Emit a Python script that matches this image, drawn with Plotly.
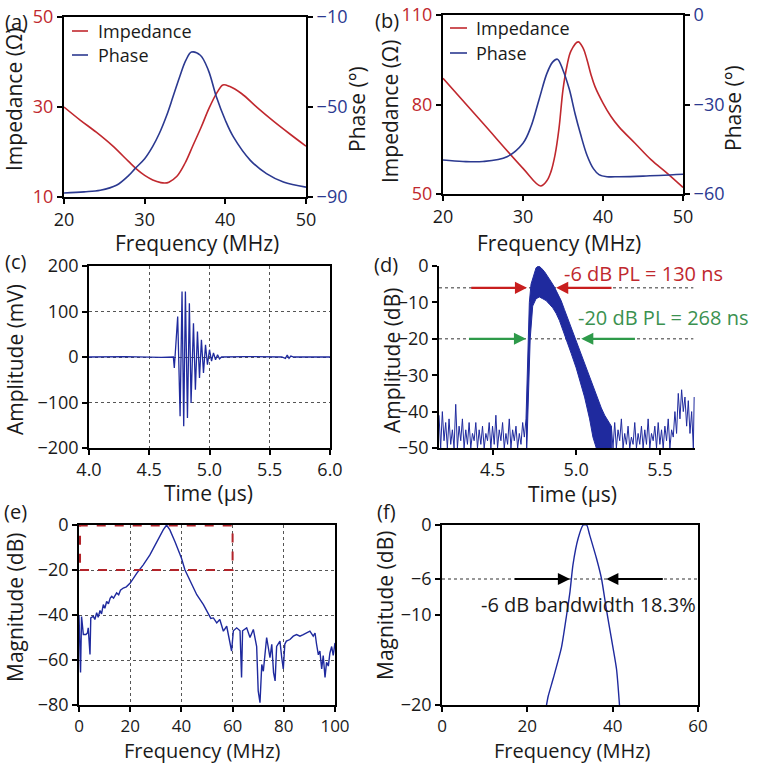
import plotly.graph_objects as go

W, H = 760, 763
FONT = "Open Sans"
RED = "#c0282e"
BLUE = "#2b3990"
NAVY = "#1f2a9e"
GREEN = "#3b9150"
TXT = "#1a1a1a"

# ---------------- (a) impedance / phase ----------------
a_imp_freq = [20, 22, 24, 26, 28, 29, 30, 31, 32, 32.5, 33, 34, 35, 36, 37, 38, 39, 39.7, 40.5, 42, 44, 46, 48, 50]
a_imp = [30, 27.1, 24.4, 21.4, 17.9, 16.2, 14.8, 13.8, 13.2, 13.1, 13.3, 14.6, 17.5, 21.5, 25.5, 29.8, 33.3, 34.9, 34.6, 33, 29.8, 26.8, 24, 21.3]
a_ph_freq = [20, 22.5, 24.5, 26.5, 28, 28.8, 30, 31, 31.8, 32.7, 33.5, 34.3, 35.1, 35.8, 36.9, 37.9, 38.9, 40, 41, 43.1, 45.1, 47.2, 50]
a_phase = [-88.2, -87.7, -87, -84.8, -80.5, -77.4, -73, -67.5, -61.9, -54, -45.6, -37, -29.3, -25.6, -27, -33.7, -45.6, -55.9, -63.3, -73.7, -79.6, -83.3, -85.6]

# ---------------- (b) impedance / phase ----------------
b_imp_freq = [20, 25, 30, 32.2, 33, 33.5, 34, 34.5, 35, 35.5, 36, 36.9, 37.5, 38, 38.5, 39, 40, 41, 42, 44, 46, 48, 50]
b_imp = [88.8, 73.7, 58.6, 52.7, 54.5, 57.5, 63, 72, 85, 93, 98, 101, 99, 95, 90, 86, 80.5, 76, 72.5, 67, 61.5, 57, 52.2]
b_ph_freq = [20, 22.5, 25, 28, 30, 31, 32, 33, 33.7, 34.3, 35, 35.8, 36.5, 37.2, 38, 38.8, 39.5, 40.5, 42, 45, 50]
b_phase = [-48.6, -49.1, -49.1, -47.5, -43, -37.4, -28.4, -19.5, -15.8, -14.8, -18.5, -25, -33, -40, -47, -51.5, -53.5, -54.2, -54.2, -54, -53.4]

# ---------------- (c) pulse-echo waveform ----------------
c_time = [4.0, 4.3, 4.6, 4.70, 4.708, 4.736, 4.756, 4.772, 4.786, 4.800, 4.817, 4.833, 4.847, 4.867, 4.883,
          4.900, 4.917, 4.933, 4.950, 4.967, 4.983, 5.000, 5.017, 5.033, 5.050, 5.067, 5.083, 5.10, 5.30,
          5.60, 5.63, 5.645, 5.66, 5.675, 5.70, 6.0]
c_amp = [0, 1, -1, 0, -24, 89, -130, 144, -152, 144, -134, 118, -101, 74, -72,
         56, -46, 38, -35, 27, -17, 16, -9, 9, -6, 5, -4, 0, 1,
         0, -3, 4, -3, 2, 0, 0]

# ---------------- (d) envelope in dB ----------------
d_floor_left_t = [4.18, 4.19, 4.20, 4.21, 4.22, 4.23, 4.24, 4.25, 4.26, 4.27, 4.28, 4.29, 4.30, 4.31, 4.32, 4.33, 4.34,
                  4.35, 4.36, 4.37, 4.38, 4.39, 4.40, 4.41, 4.42, 4.43, 4.44, 4.45, 4.46, 4.47, 4.48, 4.49, 4.50, 4.51,
                  4.52, 4.53, 4.54, 4.55, 4.56, 4.57, 4.58, 4.59, 4.60, 4.61, 4.62, 4.63, 4.64, 4.65, 4.66, 4.67, 4.68,
                  4.69, 4.70]
d_floor_left = [-41, -50, -40, -48, -43, -50, -42, -49, -45, -50, -38, -50, -44, -48, -42, -50, -45,
                -49, -43, -50, -46, -48, -43, -50, -45, -49, -44, -50, -46, -48, -43, -50, -44, -49,
                -41, -50, -45, -48, -43, -50, -46, -49, -42, -50, -45, -48, -44, -50, -46, -49, -43,
                -47, -42]
d_pulse_t = [4.700, 4.705, 4.71, 4.715, 4.72, 4.73, 4.745, 4.76, 4.775, 4.79, 4.81, 4.83, 4.85, 4.87, 4.89, 4.91,
             4.93, 4.95, 4.97, 4.99, 5.01, 5.03, 5.05, 5.07, 5.09, 5.11, 5.13, 5.15, 5.17, 5.19, 5.21,
             5.21, 5.12, 5.10, 5.08, 5.05, 5.02, 5.00, 4.97, 4.94, 4.92, 4.90, 4.88, 4.86, 4.84, 4.82, 4.80,
             4.78, 4.76, 4.74, 4.725, 4.715, 4.705, 4.700]
d_pulse = [-42, -35, -25, -16, -10, -5, -2.5, -0.5, 0, -0.5, -1.5, -2.8, -4.3, -5.8, -7.5, -9.5,
           -12, -14.5, -17, -19.5, -22, -24.5, -27, -29.5, -32, -34.5, -37, -39, -41, -42.5, -44,
           -50, -50, -47, -42, -36, -31, -28, -24, -20, -17.5, -15, -13, -11.5, -10.5, -9.5, -9,
           -8.5, -9, -11, -20, -35, -50, -50]
d_floor_right_t = [5.21, 5.22, 5.23, 5.24, 5.25, 5.26, 5.27, 5.28, 5.29, 5.30, 5.31, 5.32, 5.33, 5.34, 5.35, 5.36,
                   5.37, 5.38, 5.39, 5.40, 5.41, 5.42, 5.43, 5.44, 5.45, 5.46, 5.47, 5.48, 5.49, 5.50, 5.51, 5.52,
                   5.53, 5.54, 5.55, 5.56, 5.57, 5.58, 5.59, 5.60, 5.61, 5.62, 5.63, 5.64, 5.65, 5.66, 5.67, 5.68,
                   5.69, 5.70, 5.705]
d_floor_right = [-44, -50, -43, -50, -45, -48, -42, -50, -46, -49, -44, -50, -47, -49, -43, -50,
                 -46, -49, -44, -50, -45, -49, -42, -50, -46, -48, -44, -50, -43, -49, -45, -50,
                 -44, -48, -42, -50, -45, -47, -40, -46, -35, -42, -34, -40, -36, -44, -37, -46,
                 -40, -50, -36]

# ---------------- (e) spectrum ----------------
e_freq = [0, 0.6, 1.0, 1.7, 2.7, 3.3, 3.6, 4.0, 4.3, 4.6,
          5.6, 6.2, 6.9, 7.5, 8.2, 8.8, 9.5, 10.1, 10.8, 11.5, 12.2, 12.8, 13.5, 14.7, 15.5, 16.2, 17.3, 18.5, 20,
          22.6, 25.1, 27.7, 30.3, 32.9, 34.2, 35.5, 37.5, 40, 41.4, 43.4, 46, 48.6, 50.5, 51.5, 52.5, 53.8, 55,
          56.4, 57.7, 59, 59.6, 60.3, 61.6, 62.9, 63.5, 63.9, 65.5, 66.8, 68.1, 69.4, 70, 70.7, 71.4, 72, 72.7,
          73.3, 74.6, 75.3, 76, 76.6, 77.2, 78.5, 79.2, 79.8, 80.4, 81, 82.4, 83.7, 85, 86.3, 87.6, 88.9, 90.2,
          91.5, 92.2, 92.8, 93.5, 94.1, 94.8, 95.4, 96.1, 96.7, 97.4, 98, 98.7, 99.3, 100]
e_mag = [-40, -65.6, -40.7, -48.7, -48.7, -48, -45.7, -53, -57.5, -41.3,
         -40.6, -42, -39, -41, -38, -39.5, -35.4, -37, -34, -35, -32.5, -31.7, -32.5, -30.2, -31, -29, -28, -27.5,
         -25.8,
         -21.4, -17.7, -13.3, -7.4, -2.2, 0, -2.2, -7.4, -14.7, -20, -25, -31, -35.4, -39, -41.5, -41.3, -43.5, -42,
         -47.2, -45, -53, -56, -47, -45.7, -47, -67.8, -47, -45.7, -50, -46.4, -54, -73.7, -79, -62, -65, -56,
         -50, -59, -53, -65.6, -69.3, -54, -51.6, -59, -64, -53, -51.6, -50.9, -49.4, -48.7, -49.4, -48.7, -48,
         -47.2, -49.4, -48, -53, -57.7, -56, -64, -58, -67.8, -61, -62.7, -57, -54, -58, -52.4]

# ---------------- (f) -6 dB bandwidth ----------------
f_freq = [24.5, 24.9, 26.1, 28.0, 29.2, 30.0, 30.7, 31.9, 33.1, 33.9, 34.6, 36.2, 37.4, 38.5, 39.7, 40.9, 41.6]
f_mag = [-20, -19, -17, -13.6, -10, -7.4, -4.4, -1.5, 0, 0, -1.1, -3.7, -6, -9.3, -12.6, -16, -20]

# tick labels
a_left_ticks = [10, 30, 50]
a_right_ticks = [-90, -50, -10]
b_left_ticks = [50, 80, 110]
b_right_ticks = [-60, -30, 0]
freq_ticks_ab = [20, 30, 40, 50]
c_xticks = [4.0, 4.5, 5.0, 5.5, 6.0]
c_yticks = [-200, -100, 0, 100, 200]
d_xticks = [4.5, 5.0, 5.5]
d_yticks = [-50, -40, -30, -20, -10, 0]
e_xticks = [0, 20, 40, 60, 80, 100]
e_yticks = [-80, -60, -40, -20, 0]
f_xticks = [0, 20, 40, 60]
f_yticks = [-20, -10, -6, 0]


def xd(p0, p1):
    return [p0 / W, p1 / W]


def yd(top, bottom):
    return [1 - bottom / H, 1 - top / H]


fig = go.Figure()
# (a)
fig.add_trace(go.Scatter(x=a_imp_freq, y=a_imp, mode="lines", xaxis="x", yaxis="y",
                         line=dict(color=RED, width=1.6, shape="spline", smoothing=1)))
fig.add_trace(go.Scatter(x=a_ph_freq, y=a_phase, mode="lines", xaxis="x", yaxis="y2",
                         line=dict(color=BLUE, width=1.6, shape="spline", smoothing=1)))
# (b)
fig.add_trace(go.Scatter(x=b_imp_freq, y=b_imp, mode="lines", xaxis="x2", yaxis="y3",
                         line=dict(color=RED, width=1.6, shape="spline", smoothing=1)))
fig.add_trace(go.Scatter(x=b_ph_freq, y=b_phase, mode="lines", xaxis="x2", yaxis="y4",
                         line=dict(color=BLUE, width=1.6, shape="spline", smoothing=1)))
# (c)
fig.add_trace(go.Scatter(x=c_time, y=c_amp, mode="lines", xaxis="x3", yaxis="y5",
                         line=dict(color=NAVY, width=1.3)))
# (d)
fig.add_trace(go.Scatter(x=d_floor_left_t, y=d_floor_left, mode="lines", xaxis="x4", yaxis="y6",
                         line=dict(color=NAVY, width=1)))
fig.add_trace(go.Scatter(x=d_pulse_t, y=d_pulse, mode="lines", xaxis="x4", yaxis="y6", fill="toself",
                         fillcolor=NAVY, line=dict(color=NAVY, width=1)))
fig.add_trace(go.Scatter(x=d_floor_right_t, y=d_floor_right, mode="lines", xaxis="x4", yaxis="y6",
                         line=dict(color=NAVY, width=1)))
# (e)
fig.add_trace(go.Scatter(x=e_freq, y=e_mag, mode="lines", xaxis="x5", yaxis="y7",
                         line=dict(color=NAVY, width=1.4)))
# (f)
fig.add_trace(go.Scatter(x=f_freq, y=f_mag, mode="lines", xaxis="x6", yaxis="y8",
                         line=dict(color=NAVY, width=1.4, shape="spline", smoothing=0.6)))

tickfont = dict(family=FONT, size=18, color=TXT)
base = dict(showline=True, linecolor="black", linewidth=1.6, ticks="outside", ticklen=5, tickwidth=1.6,
            tickcolor="black", showgrid=False, zeroline=False, tickfont=tickfont, fixedrange=True,
            automargin=False)
grid = dict(showgrid=True, gridcolor="#555555", griddash="dot", gridwidth=1)
bottom_tf = dict(tickfont, size=17)


def ax(*parts, **kw):
    d = {}
    for p in parts:
        d.update(p)
    d.update(kw)
    return d


lay = dict(
    width=W, height=H, margin=dict(l=0, r=0, t=0, b=0, autoexpand=False), paper_bgcolor="white",
    plot_bgcolor="white", showlegend=False, font=dict(family=FONT, color=TXT),
    # (a)
    xaxis=ax(base, domain=xd(64, 306), range=[20, 50], tickvals=freq_ticks_ab, anchor="y", mirror=True,
             linewidth=2),
    yaxis=ax(base, domain=yd(17, 197), range=[10, 50], tickvals=a_left_ticks, anchor="x", linewidth=2,
             tickfont=dict(tickfont, color=RED)),
    yaxis2=ax(base, domain=yd(17, 197), range=[-90, -10], tickvals=a_right_ticks, anchor="x", overlaying="y",
              side="right", linewidth=2, tickfont=dict(tickfont, color=BLUE)),
    # (b)
    xaxis2=ax(base, domain=xd(443, 683), range=[20, 50], tickvals=freq_ticks_ab, anchor="y3", mirror=True,
              linewidth=2),
    yaxis3=ax(base, domain=yd(15, 194), range=[50, 110], tickvals=b_left_ticks, anchor="x2", linewidth=2,
              tickfont=dict(tickfont, color=RED)),
    yaxis4=ax(base, domain=yd(15, 194), range=[-60, 0], tickvals=b_right_ticks, anchor="x2", overlaying="y3",
              side="right", linewidth=2, tickfont=dict(tickfont, color=BLUE)),
    # (c)
    xaxis3=ax(base, grid, domain=xd(89, 330), range=[4.0, 6.0], tickvals=c_xticks, tickformat=".1f",
              anchor="y5", mirror=True),
    yaxis5=ax(base, grid, domain=yd(266, 448), range=[-200, 200], tickvals=c_yticks, anchor="x3", mirror=True),
    # (d)
    xaxis4=ax(base, domain=xd(439, 695), range=[4.18, 5.71], tickvals=d_xticks, tickformat=".1f",
              anchor="y6"),
    yaxis6=ax(base, domain=yd(266, 448), range=[-50, 0], tickvals=d_yticks, anchor="x4"),
    # (e)
    xaxis5=ax(base, grid, domain=xd(79, 335), range=[0, 100], tickvals=e_xticks, anchor="y7", mirror=True,
              tickfont=bottom_tf),
    yaxis7=ax(base, grid, domain=yd(525, 705), range=[-80, 0], tickvals=e_yticks, anchor="x5", mirror=True),
    # (f)
    xaxis6=ax(base, domain=xd(442, 698), range=[0, 60], tickvals=f_xticks, anchor="y8", mirror=True,
              tickfont=bottom_tf),
    yaxis8=ax(base, domain=yd(525, 705), range=[-20, 0], tickvals=f_yticks, anchor="x6", mirror=True),
)
fig.update_layout(**lay)

shapes = []
# reference lines
shapes.append(dict(type="line", xref="x4", yref="y6", x0=4.18, x1=5.70, y0=-6, y1=-6,
                   line=dict(color="#777777", width=1.5, dash="dot"), layer="below"))
shapes.append(dict(type="line", xref="x4", yref="y6", x0=4.18, x1=5.70, y0=-20, y1=-20,
                   line=dict(color="#777777", width=1.5, dash="dot"), layer="below"))
shapes.append(dict(type="line", xref="x6", yref="y8", x0=0, x1=60, y0=-6, y1=-6,
                   line=dict(color="#777777", width=1.5, dash="dot"), layer="below"))
shapes.append(dict(type="rect", xref="x5", yref="y7", x0=0.4, x1=60, y0=-20, y1=-0.2,
                   line=dict(color="#b3242a", width=2, dash="dash")))
# manual legends
for (x0, x1, y, col) in [(72, 88, 31, RED), (72, 88, 55, BLUE), (450, 467, 28, RED), (450, 467, 53, BLUE)]:
    shapes.append(dict(type="line", xref="paper", yref="paper", x0=x0 / W, x1=x1 / W, y0=1 - y / H, y1=1 - y / H,
                       line=dict(color=col, width=1.6)))
fig.update_layout(shapes=shapes)

ann = []


def txt(text, x, y, size=21, color=TXT, angle=0, xanchor="center"):
    ann.append(dict(text=text, xref="paper", yref="paper", x=x / W, y=1 - y / H, showarrow=False,
                    xanchor=xanchor, yanchor="middle", textangle=angle,
                    font=dict(family=FONT, size=size, color=color)))


# legend labels
txt("Impedance", 96, 31, 18, xanchor="left")
txt("Phase", 96, 55, 18, xanchor="left")
txt("Impedance", 474, 28, 18, xanchor="left")
txt("Phase", 474, 53, 18, xanchor="left")
# axis titles
txt("Impedance (Ω)", 14, 100, angle=-90)
txt("Phase (°)", 357, 109, angle=-90)
txt("Frequency (MHz)", 197, 243)
txt("Impedance (Ω)", 390, 112, angle=-90)
txt("Phase (°)", 733, 108, angle=-90)
txt("Frequency (MHz)", 559, 243)
txt("Amplitude (mV)", 15, 360, angle=-90)
txt("Time (µs)", 208, 493)
txt("Amplitude (dB)", 392, 361, angle=-90)
txt("Time (µs)", 572, 494)
txt("Magnitude (dB)", 15, 608, angle=-90)
txt("Frequency (MHz)", 202, 750, 20)
txt("Magnitude (dB)", 385, 606, angle=-90)
txt("Frequency (MHz)", 572, 750, 20)
# panel labels
txt("(a)", 16, 21, 20)
txt("(b)", 387, 20, 20)
txt("(c)", 15, 261, 20)
txt("(d)", 386, 264, 20)
txt("(e)", 15, 511, 20)
txt("(f)", 386, 511, 20)
# annotation texts
txt("-6 dB PL = 130 ns", 643, 273, 20, color=RED)
txt("-20 dB PL = 268 ns", 663, 317, 20, color=GREEN)
txt("-6 dB bandwidth 18.3%", 588, 604, 20, color=TXT)


def arrow(xr, yr, head, tail, y, color):
    ann.append(dict(text="", xref=xr, yref=yr, axref=xr, ayref=yr, x=head, y=y, ax=tail, ay=y,
                    showarrow=True, arrowhead=2, arrowsize=1.1, arrowwidth=2.2, arrowcolor=color,
                    standoff=0, startstandoff=0))


arrow("x4", "y6", 4.706, 4.364, -6, "#c81e1e")
arrow("x4", "y6", 4.88, 5.22, -6, "#c81e1e")
arrow("x4", "y6", 4.70, 4.35, -20, "#2e9a4a")
arrow("x4", "y6", 5.03, 5.36, -20, "#2e9a4a")
arrow("x6", "y8", 30.0, 16.7, -6, "black")
arrow("x6", "y8", 38.5, 52.1, -6, "black")

fig.update_layout(annotations=ann)
fig.write_html("out.html", config={"displayModeBar": False},
               post_script="document.body.style.margin='0px';document.body.style.overflow='hidden';")
